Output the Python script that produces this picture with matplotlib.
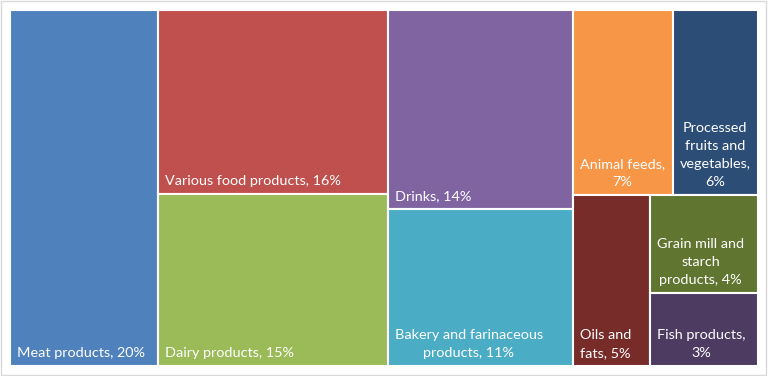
import matplotlib.pyplot as plt
from matplotlib.patches import Rectangle

plt.rcParams['font.family'] = ['Lato', 'DejaVu Sans']

labels = ["Meat products, 20%", "Various food products, 16%", "Dairy products, 15%",
          "Drinks, 14%", "Bakery and farinaceous\nproducts, 11%", "Animal feeds,\n7%",
          "Processed\nfruits and\nvegetables,\n6%", "Oils and\nfats, 5%",
          "Grain mill and\nstarch\nproducts, 4%", "Fish products,\n3%"]
values = [20, 16, 15, 14, 11, 7, 6, 5, 4, 3]
colors = ['#4F81BD', '#C0504D', '#9BBB59', '#8064A2', '#4BACC6',
          '#F79646', '#2C4D75', '#772C2A', '#5F7530', '#4D3B62']

# grouping of the treemap (which items share a column / row)
tree = [[0], [1, 2], [3, 4], [[5, 6], [7, [8, 9]]]]


def total(node):
    if isinstance(node, int):
        return values[node]
    return sum(total(n) for n in node)


def layout(node, x, y, w, h, depth, out):
    if isinstance(node, int):
        out[node] = (x, y, w, h)
        return
    s = total(node)
    pos = 0
    for child in node:
        f = total(child) / s
        if depth % 2 == 0:
            layout(child, x + pos * w, y, w * f, h, depth + 1, out)
        else:
            layout(child, x, y + pos * h, w, h * f, depth + 1, out)
        pos += f


rects = {}
layout(tree, 0, 0, 1, 1, 0, rects)

fig = plt.figure(figsize=(7.68, 3.76), dpi=100)
ax = fig.add_axes([10 / 768, 10 / 376, 748 / 768, 356 / 376])
ax.set_xlim(0, 1)
ax.set_ylim(1, 0)
ax.axis('off')

for i in range(len(values)):
    x, y, w, h = rects[i]
    ax.add_patch(Rectangle((x, y), w, h, facecolor=colors[i], edgecolor='white', linewidth=1.5))
    ax.annotate(labels[i], xy=(x, y + h), xytext=(5, 5), textcoords='offset points',
                ha='left', va='bottom', multialignment='center', color='white',
                fontsize=10.4, linespacing=1.6)

fig.patches.append(Rectangle((0.001, 0.002), 0.997, 0.995, transform=fig.transFigure,
                             fill=False, edgecolor='#d9d9d9', linewidth=1))

fig.savefig('out.png', dpi=100)
